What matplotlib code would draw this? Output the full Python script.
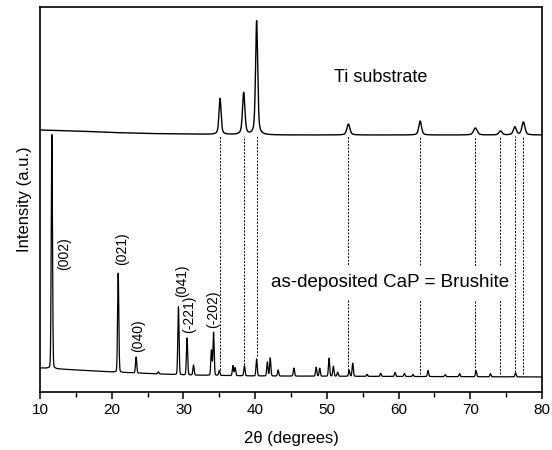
import matplotlib
matplotlib.use('Agg')
import matplotlib.pyplot as plt
import numpy as np
from matplotlib.ticker import MultipleLocator

plt.rcParams['font.family'] = ['Liberation Sans', 'DejaVu Sans']

# Ti substrate pattern (offset upward), peak positions / heights / widths (a.u.)
ti_pos = [35.1, 38.4, 40.2, 53.0, 63.0, 70.7, 74.2, 76.2, 77.4]
ti_height = [36, 42, 114, 11, 14, 7, 4, 8, 13]
ti_fwhm = [0.35, 0.4, 0.35, 0.5, 0.45, 0.6, 0.5, 0.5, 0.5]
ti_base_x = [10, 15, 20, 25, 30, 40, 80]
ti_base_y = [262, 261, 259.5, 258.5, 258, 257, 257]

# as-deposited CaP (brushite) pattern
br_pos = [11.65, 20.9, 23.4, 26.5, 29.3, 30.5, 31.4, 33.9, 34.2, 35.0, 36.9, 37.2,
          38.5, 40.2, 41.7, 42.1, 43.2, 45.4, 48.5, 49.0, 50.3, 50.9, 51.5, 53.1,
          53.6, 55.6, 57.5, 59.5, 60.8, 62.0, 64.1, 66.5, 68.5, 70.8, 72.8, 76.3]
br_height = [234, 99, 16, 2, 68, 37, 10, 25, 43, 5, 10, 8,
             10, 17, 14, 18, 6, 8, 9, 8, 18, 10, 4, 6,
             13, 2, 3, 4, 3, 2, 6, 2, 3, 6, 3, 4]
br_fwhm = 0.2
br_base_x = [10, 20, 30, 40, 80]
br_base_y = [24, 20, 17, 16, 15]

hkl_labels = ['(002)', '(021)', '(040)', '(041)', '(-221)', '(-202)']
hkl_x = [13.3, 21.4, 23.7, 29.8, 30.8, 34.2]
hkl_y = [122, 127, 40, 95, 59, 64]

x = np.arange(10, 80.001, 0.01)


def pattern(xx, pos, height, fwhm, bx, by, eta):
    # pseudo-Voigt peaks on an interpolated background
    y = np.interp(xx, bx, by).astype(float)
    fwhm = np.broadcast_to(fwhm, len(pos))
    for c, h, w in zip(pos, height, fwhm):
        d = (xx - c) / (w / 2)
        y += h * (eta / (1 + d ** 2) + (1 - eta) * np.exp(-np.log(2) * d ** 2))
    return y


y_ti = pattern(x, ti_pos, ti_height, ti_fwhm, ti_base_x, ti_base_y, 0.5)
y_br = pattern(x, br_pos, br_height, br_fwhm, br_base_x, br_base_y, 0.1)

fig = plt.figure(figsize=(5.52, 4.5), dpi=100)
ax = fig.add_axes([0.0725, 0.129, 0.9095, 0.8554])

ax.plot(x, y_ti, color='black', lw=1.0)
ax.plot(x, y_br, color='black', lw=0.9)

# dotted guide lines from the Ti peaks down to the brushite pattern
for p in ti_pos:
    top = np.interp(p, ti_base_x, ti_base_y) - 1
    bottom = np.interp(p, x, y_br) + 3
    z = 4 if p > 75 else 1
    ax.vlines(p, bottom, top, colors='black', linestyles=(0, (2, 1.5)), lw=0.7, zorder=z)

ax.text(57.5, 315, 'Ti substrate', fontsize=13, ha='center', va='center')
ax.text(58.8, 109, 'as-deposited CaP = Brushite', fontsize=13.5, ha='center', va='center',
        bbox=dict(facecolor='white', edgecolor='none', pad=6), zorder=3)

for lab, lx, ly in zip(hkl_labels, hkl_x, hkl_y):
    ax.text(lx, ly, lab, rotation=90, fontsize=10, ha='center', va='bottom')

ax.set_xlim(10, 80)
ax.set_ylim(0, 385)
ax.xaxis.set_major_locator(MultipleLocator(10))
ax.xaxis.set_minor_locator(MultipleLocator(5))
ax.set_yticks([])
ax.tick_params(axis='x', which='major', direction='out', length=5, width=1.1, labelsize=11, pad=3)
ax.tick_params(axis='x', which='minor', direction='out', length=3.5, width=1.0)
for s in ax.spines.values():
    s.set_linewidth(1.2)

ax.set_xlabel('2θ (degrees)', fontsize=12, labelpad=10)
ax.set_ylabel('Intensity (a.u.)', fontsize=12, labelpad=6)

fig.savefig('out.png', dpi=100)
